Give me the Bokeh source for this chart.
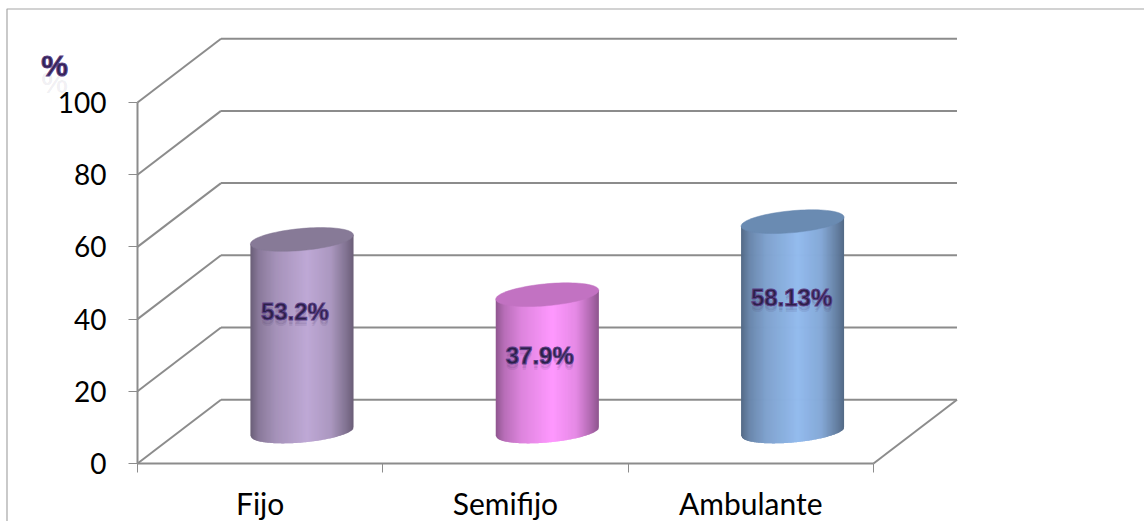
from bokeh.embed import file_html
from bokeh.models import FixedTicker, LinearAxis, Range1d
from bokeh.plotting import figure
from bokeh.resources import INLINE
from bokeh.core.properties import value
import numpy as np

categories = ["Fijo", "Semifijo", "Ambulante"]
percentages = [53.2, 37.9, 58.13]
value_labels = ["53.2%", "37.9%", "58.13%"]
value_ticks = [0, 20, 40, 60, 80, 100]
peak_colors = ["#bfa9d6", "#ff99ff", "#93bbee"]
lid_colors = ["#877a97", "#c272c2", "#6a8bb2"]

W, H = 1144, 521
ORIGIN_X, ORIGIN_Y = 137, 463      # canvas position of the chart's origin
PX_PER_CAT = 245.33
PX_PER_UNIT = 3.61
DEPTH_X = 83.5 / PX_PER_CAT        # how far the back wall sits behind the front plane
DEPTH_Y = 63.8 / PX_PER_UNIT
GRID = "#8c8c8c"


def data_x(px):
    return (px - ORIGIN_X) / PX_PER_CAT


def data_y(px):
    return (ORIGIN_Y - px) / PX_PER_UNIT


p = figure(width=W, height=H, output_backend="svg", toolbar_location=None,
           x_range=Range1d(data_x(0), data_x(W)), y_range=Range1d(data_y(H), data_y(0)),
           min_border=0, x_axis_location=None, y_axis_location=None)
p.xgrid.visible = False
p.ygrid.visible = False
p.outline_line_color = None
p.background_fill_color = "white"
p.border_fill_color = "white"

# Outer chart frame: only its left and top edges fall on the page
p.line([data_x(6.5), data_x(6.5), data_x(W + 4)], [data_y(H + 4), data_y(8.5), data_y(8.5)],
       line_color="#a6a6a6", line_width=1.2)

# Value axis, pinned to the front plane
yaxis = LinearAxis(ticker=FixedTicker(ticks=value_ticks), bounds=(0, 100), fixed_location=0,
                   axis_line_color=GRID, axis_line_width=2,
                   major_tick_line_color=GRID, major_tick_line_width=1,
                   major_tick_in=0, major_tick_out=9, minor_tick_line_color=None,
                   major_label_text_font="Lato", major_label_text_font_size="28px",
                   major_label_text_color="#000000", major_label_standoff=22)
p.add_layout(yaxis, "left")

# Category axis: labels sit between the tick marks
xaxis = LinearAxis(ticker=FixedTicker(ticks=[0.5, 1.5, 2.5], minor_ticks=[0, 1, 2, 3]),
                   major_label_overrides={i + 0.5: c for i, c in enumerate(categories)},
                   bounds=(0, 3), fixed_location=0,
                   axis_line_color=GRID, axis_line_width=2,
                   major_tick_line_color=None, minor_tick_line_color=GRID,
                   minor_tick_in=0, minor_tick_out=9, minor_tick_line_width=1,
                   major_label_text_font="Lato", major_label_text_font_size="30px",
                   major_label_text_color="#000000", major_label_standoff=12)
p.add_layout(xaxis, "below")

# Side wall and back wall rules
for v in value_ticks:
    p.line([0, DEPTH_X], [v, v + DEPTH_Y], line_color=GRID, line_width=2)
    p.line([DEPTH_X, 3 + DEPTH_X], [v + DEPTH_Y, v + DEPTH_Y], line_color=GRID, line_width=2)
p.line([3, 3 + DEPTH_X], [0, DEPTH_Y], line_color=GRID, line_width=2)

# Cylinders: a ramp of narrow strips for the round shading, then the lid
CYL_HALF = 51.5 / PX_PER_CAT
BASE = 32 / PX_PER_UNIT
MINOR = 11 / PX_PER_UNIT
TILT = 4.5 / PX_PER_UNIT
STRIPS = 103
OVERLAP = 0.8 / PX_PER_CAT         # each strip runs under its right neighbour to hide seams
LABEL_SHIFT = [-7, -7.5, -1]
ramp_u = [0, 0.08, 0.25, 0.55, 0.78, 0.93, 1]
ramp_k = [0.56, 0.72, 0.87, 1, 0.9, 0.68, 0.56]


def hex_rgb(c):
    return np.array([int(c[i:i + 2], 16) for i in (1, 3, 5)], dtype=float)


for i, pct in enumerate(percentages):
    cx = i + 0.5 + DEPTH_X / 2
    top = pct + BASE
    peak = hex_rgb(peak_colors[i])
    cos_t = np.linspace(-1, 1, STRIPS + 1)
    sin_t = np.sqrt(1 - cos_t ** 2)
    xs = cx + CYL_HALF * cos_t
    lower = BASE + TILT * cos_t - MINOR * sin_t
    upper = top + TILT * cos_t
    strip_x, strip_y, strip_c = [], [], []
    for k in range(STRIPS):
        right = min(xs[k + 1] + OVERLAP, xs[-1])
        strip_x.append([xs[k], right, right, xs[k]])
        strip_y.append([lower[k], lower[k + 1], upper[k + 1], upper[k]])
        u = (cos_t[k] + cos_t[k + 1] + 2) / 4
        r, g, b = peak * np.interp(u, ramp_u, ramp_k)
        strip_c.append(f"#{int(r):02x}{int(g):02x}{int(b):02x}")
    p.patches(strip_x, strip_y, fill_color=strip_c, line_color=None)

    t = np.linspace(0, 2 * np.pi, 90)
    p.patch(cx + CYL_HALF * np.cos(t), top + TILT * np.cos(t) + MINOR * np.sin(t),
            fill_color=lid_colors[i], line_color=lid_colors[i], line_width=0.5)

    # Value label with its soft drop shadow
    label_x = cx + LABEL_SHIFT[i] / PX_PER_CAT
    label_y = pct * 0.795 - 0.3
    for off, alpha in ((1.6, 0.10), (1.0, 0.14)):
        p.text([label_x], [label_y - off], text=[value_labels[i]], text_align="center",
               text_baseline="middle", text_font=value("Liberation Sans"),
               text_font_style="bold", text_font_size="24px", text_color="#3a2a5c", text_alpha=alpha)
    p.text([label_x], [label_y], text=[value_labels[i]], text_align="center",
           text_baseline="middle", text_font=value("Liberation Sans"), text_font_style="bold",
           text_font_size="24px", text_color="#2b2048", text_outline_color="#5b3f86")

# Unit caption above the value axis, with a faint reflection beneath it
p.text([data_x(54)], [data_y(82)], text=["%"], text_align="center", text_baseline="middle",
       text_font=value("Liberation Sans"), text_font_style="bold", text_font_size="30px",
       text_color="#3a2a5c", text_alpha=0.07)
p.text([data_x(54)], [data_y(65)], text=["%"], text_align="center", text_baseline="middle",
       text_font=value("Liberation Sans"), text_font_style="bold", text_font_size="30px",
       text_color="#2f2350", text_outline_color="#5b3f86")

open("out.html", "w").write(file_html(p, INLINE))
